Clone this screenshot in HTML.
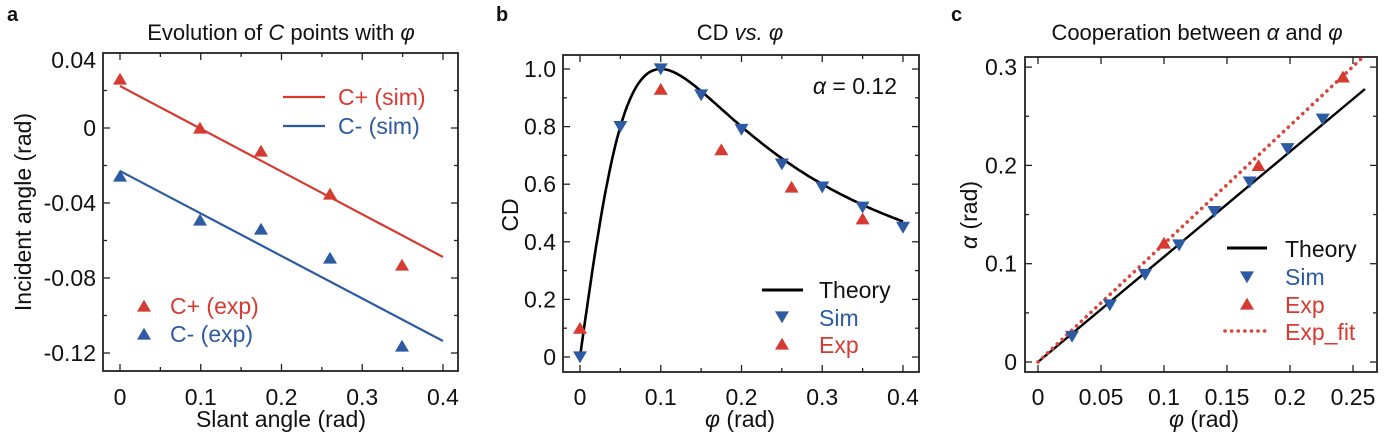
<!DOCTYPE html>
<html><head><meta charset="utf-8"><style>
body{margin:0;background:#fff}
svg{display:block;font-family:"Liberation Sans",sans-serif}
</style></head><body>
<svg id="s" width="1386" height="432" viewBox="0 0 1386 432" xmlns="http://www.w3.org/2000/svg"></svg>
<script>
const R="#d63a30",B="#2c5aa3";
let h="";
function frame(x0,y0,x1,y1){h+=`<rect x="${x0}" y="${y0}" width="${x1-x0}" height="${y1-y0}" fill="none" stroke="#222" stroke-width="1.8"/>`;}
function tri(x,y,c,down){const s=7;h+= down?`<polygon points="${x-s},${y-s*0.8} ${x+s},${y-s*0.8} ${x},${y+s*0.9}" fill="${c}"/>`:`<polygon points="${x-s},${y+s*0.8} ${x+s},${y+s*0.8} ${x},${y-s*0.9}" fill="${c}"/>`;}
function t(x,y,s,o){o=o||{};h+=`<text x="${x}" y="${y}" font-size="${o.fs||19}" fill="${o.c||'#111'}" text-anchor="${o.a||'middle'}" ${o.w?'font-weight="bold"':''} ${o.tr?`transform="${o.tr}"`:''}>${s}</text>`;}
function xt(x,y0,y1,L){h+=`<line x1="${x}" y1="${y1}" x2="${x}" y2="${y1-L}" stroke="#222" stroke-width="1.3"/><line x1="${x}" y1="${y0}" x2="${x}" y2="${y0+L}" stroke="#222" stroke-width="1.3"/>`;}
function yt(y,x0,x1,L){h+=`<line x1="${x0}" y1="${y}" x2="${x0+L}" y2="${y}" stroke="#222" stroke-width="1.3"/><line x1="${x1}" y1="${y}" x2="${x1-L}" y2="${y}" stroke="#222" stroke-width="1.3"/>`;}
const FS=23;
const dot='stroke-dasharray="0.1 6.5" stroke-linecap="round" stroke-width="3.6"';
// Panel a
{const X=v=>120+v*807.5,Y=v=>128-v*1875;
frame(103,53,458,371);
for(let i=0;i<=8;i++){xt(X(i*0.05),53,371,i%2?4:7);}
for(let i=-6;i<=1;i++){yt(Y(i*0.02),103,458,i%2?4:7);}
[0,0.1,0.2,0.3,0.4].forEach(v=>t(X(v),405,v===0?"0":v.toFixed(1),{fs:FS}));
[[0.04,"0.04"],[0,"0"],[-0.04,"-0.04"],[-0.08,"-0.08"],[-0.12,"-0.12"]].forEach(([v,s])=>t(96,Math.max(Y(v),60)+8,s,{fs:FS,a:"end"}));
h+=`<line x1="120" y1="86" x2="443" y2="257" stroke="${R}" stroke-width="2.2"/><line x1="120" y1="171" x2="443" y2="341" stroke="${B}" stroke-width="2.2"/>`;
[[120,79],[200,128],[261,151],[330,194],[402,265]].forEach(p=>tri(p[0],p[1],R));
[[120,176],[200,220],[261,229],[330,258],[402,346]].forEach(p=>tri(p[0],p[1],B));
h+=`<line x1="283" y1="97" x2="325" y2="97" stroke="${R}" stroke-width="2.2"/><line x1="283" y1="126" x2="325" y2="126" stroke="${B}" stroke-width="2.2"/>`;
t(338,105,"C+ (sim)",{fs:FS,a:"start",c:R});t(338,134,"C- (sim)",{fs:FS,a:"start",c:B});
tri(144,306,R);tri(144,334,B);
t(170,314,"C+ (exp)",{fs:FS,a:"start",c:R});t(170,342,"C- (exp)",{fs:FS,a:"start",c:B});
t(281,40,"Evolution of <tspan font-style='italic'>C</tspan> points with <tspan font-style='italic'>φ</tspan>",{fs:22});
t(281,427,"Slant angle (rad)",{fs:FS});
t(0,0,"Incident angle (rad)",{fs:FS,tr:"translate(31,212) rotate(-90)"});
t(7,21,"a",{fs:20,a:"start",w:1});}
// Panel b
{const X=v=>580+v*807.5,Y=v=>357-v*288;
frame(563,55,919,372);
for(let i=0;i<=8;i++){xt(X(i*0.05),55,372,i%2?4:7);}
for(let i=0;i<=10;i++){yt(Y(i*0.1),563,919,i%2?4:7);}
[0,0.1,0.2,0.3,0.4].forEach(v=>t(X(v),405,v===0?"0":v.toFixed(1),{fs:FS}));
[0,0.2,0.4,0.6,0.8,1.0].forEach(v=>t(556,Y(v)+8,v===0?"0":v.toFixed(1),{fs:FS,a:"end"}));
let d="";for(let i=0;i<=200;i++){const f=i/200*0.4,c=2*0.1*f/(0.01+f*f);d+=(i?"L":"M")+X(f).toFixed(1)+","+Y(c).toFixed(1);}
h+=`<path d="${d}" fill="none" stroke="#000" stroke-width="2.6"/>`;
[0,0.8,1.0,0.91,0.79,0.67,0.59,0.52,0.45].forEach((v,i)=>tri(X(i*0.05),Y(v),B,1));
[[0,0.1],[0.1,0.93],[0.175,0.72],[0.262,0.59],[0.35,0.48]].forEach(p=>tri(X(p[0]),Y(p[1]),R));
h+=`<line x1="762" y1="290" x2="803" y2="290" stroke="#000" stroke-width="3"/>`;
t(819,298,"Theory",{fs:FS,a:"start"});tri(782,317,B,1);t(819,326,"Sim",{fs:FS,a:"start",c:B});
tri(782,344,R);t(819,353,"Exp",{fs:FS,a:"start",c:R});
t(897,94,"<tspan font-style='italic'>α</tspan> = 0.12",{fs:FS,a:"end"});
t(740,40,"CD <tspan font-style='italic'>vs.</tspan> <tspan font-style='italic'>φ</tspan>",{fs:22});
t(740,427,"<tspan font-style='italic'>φ</tspan> (rad)",{fs:FS});
t(0,0,"CD",{fs:FS,tr:"translate(518,215) rotate(-90)"});
t(496,21,"b",{fs:20,a:"start",w:1});}
// Panel c
{const X=v=>1038+v*1260,Y=v=>362-v*983;
frame(1025,57,1377,372);
for(let i=0;i<=5;i++){xt(X(i*0.05),57,372,7);}
for(let i=0;i<=6;i++){yt(Y(i*0.05),1025,1377,i%2?4:7);}
[[0,"0"],[0.05,"0.05"],[0.1,"0.1"],[0.15,"0.15"],[0.2,"0.2"],[0.25,"0.25"]].forEach(([v,s])=>t(X(v),405,s,{fs:FS}));
[[0,"0"],[0.1,"0.1"],[0.2,"0.2"],[0.3,"0.3"]].forEach(([v,s])=>t(1017,Y(v)+8,s,{fs:FS,a:"end"}));
h+=`<line x1="${X(0)}" y1="${Y(0)}" x2="1365" y2="89" stroke="#000" stroke-width="2.4"/>`;
h+=`<line x1="${X(0)}" y1="${Y(0)}" x2="1361" y2="59" stroke="#d8463c" ${dot}/>`;
[[0.027,0.026],[0.057,0.058],[0.085,0.089],[0.112,0.119],[0.14,0.153],[0.168,0.183],[0.198,0.217],[0.226,0.247]].forEach(p=>tri(X(p[0]),Y(p[1]),B,1));
[[0.1,0.121],[0.175,0.2],[0.242,0.29]].forEach(p=>tri(X(p[0]),Y(p[1]),R));
h+=`<line x1="1227" y1="248" x2="1267" y2="248" stroke="#000" stroke-width="3"/>`;
t(1285,257,"Theory",{fs:FS,a:"start"});tri(1247,277,B,1);t(1285,285,"Sim",{fs:FS,a:"start",c:B});
tri(1247,304,R);t(1285,313,"Exp",{fs:FS,a:"start",c:R});
h+=`<line x1="1225" y1="331" x2="1267" y2="331" stroke="#d8463c" ${dot}/>`;
t(1285,340,"Exp_fit",{fs:FS,a:"start",c:R});
t(1197,40,"Cooperation between <tspan font-style='italic'>α</tspan> and <tspan font-style='italic'>φ</tspan>",{fs:22});
t(1204,427,"<tspan font-style='italic'>φ</tspan> (rad)",{fs:FS});
t(0,0,"<tspan font-style='italic'>α</tspan> (rad)",{fs:FS,tr:"translate(977,215) rotate(-90)"});
t(951,21,"c",{fs:20,a:"start",w:1});}
document.getElementById("s").innerHTML=h;
</script>
</body></html>
